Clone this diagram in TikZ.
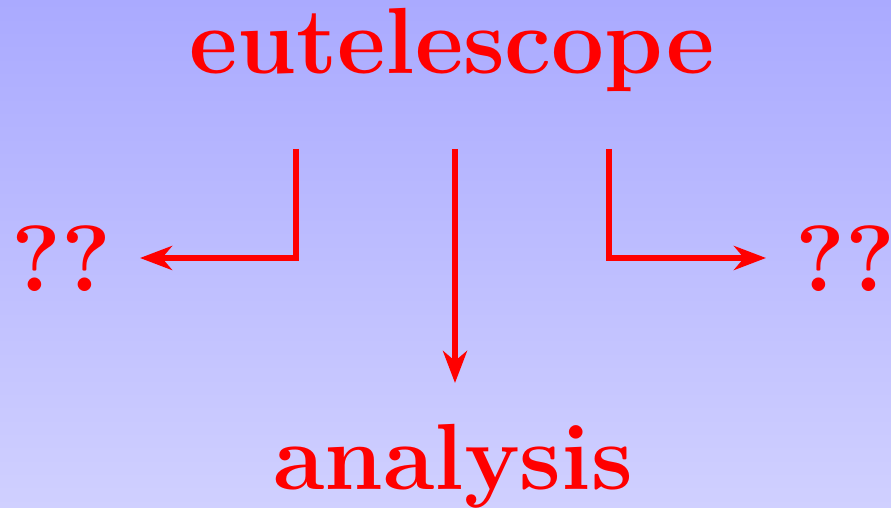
\documentclass[tikz,border=0pt]{standalone}
\usepackage{fontspec}
\usetikzlibrary{arrows.meta}
\definecolor{bgtop}{RGB}{170,170,255}
\definecolor{bgbot}{RGB}{208,208,255}
\begin{document}
\begin{tikzpicture}[x=1pt,y=1pt,
  lbl/.style={text=red,font=\fontsize{94}{100}\selectfont\bfseries,inner sep=0pt,anchor=base},
  conn/.style={draw=red,line width=6.5pt,-{Stealth[length=32pt,width=24pt,inset=10pt]}}]
  \shade[top color=bgtop,bottom color=bgbot] (0,0) rectangle (891,508);
  \useasboundingbox (0,0) rectangle (891,508);
  \node[lbl] (top) at (452,434) {eutelescope};
  \node[lbl] (ana) at (453,18) {analysis};
  \node[lbl] (ql) at (61,216) {??};
  \node[lbl] (qr) at (845,216) {??};
  \coordinate (ls) at (296,359);
  \coordinate (lt) at (140,250);
  \coordinate (ms) at (455,359);
  \coordinate (mt) at (455,125);
  \coordinate (rs) at (609,359);
  \coordinate (rt) at (766,250);
  \draw[conn] (ls) |- (lt);
  \draw[conn] (ms) -- (mt);
  \draw[conn] (rs) |- (rt);
\end{tikzpicture}
\end{document}
